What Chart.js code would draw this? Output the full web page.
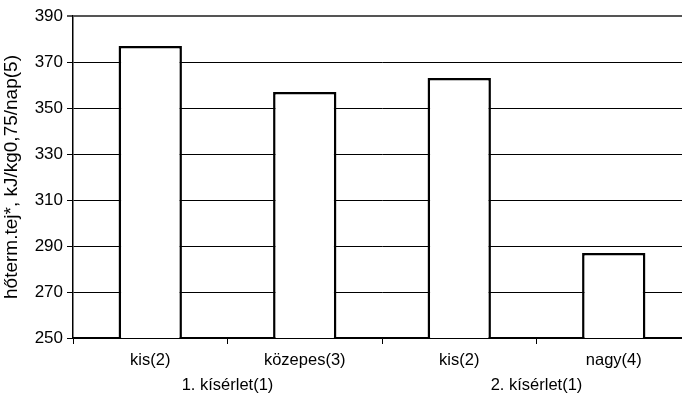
<!DOCTYPE html>
<html>
<head>
<meta charset="utf-8">
<script src="https://cdn.jsdelivr.net/npm/chart.js@4"></script>
<style>
  html, body { margin: 0; padding: 0; background: #fff; overflow: hidden; }
  #wrap { width: 700px; height: 403px; }
</style>
</head>
<body>
<div id="wrap"><canvas id="c" width="700" height="403"></canvas></div>
<script>
// Categories (body size class) and their experiment groups
const categories = ['kis(2)', 'közepes(3)', 'kis(2)', 'nagy(4)'];
const groups = ['1. kísérlet(1)', '1. kísérlet(1)', '2. kísérlet(1)', '2. kísérlet(1)'];
// Heat-corrected milk energy, kJ/kg^0.75/day
const values = [377, 357, 363, 287];
const yTicks = [250, 270, 290, 310, 330, 350, 370, 390];
const yTitle = 'hőterm.tej*, kJ/kg0,75/nap(5)';

const FONT = 'Liberation Sans, Arial, sans-serif';

// Second row of category labels: one centered label per experiment group
const groupLabels = {
  id: 'groupLabels',
  afterDraw(chart) {
    const x = chart.scales.x;
    const ctx = chart.ctx;
    ctx.save();
    ctx.font = '16.5px ' + FONT;
    ctx.fillStyle = '#000';
    ctx.textAlign = 'center';
    ctx.textBaseline = 'middle';
    let i = 0;
    while (i < groups.length) {
      let j = i;
      while (j + 1 < groups.length && groups[j + 1] === groups[i]) j++;
      const cx = (x.getPixelForValue(i) + x.getPixelForValue(j)) / 2;
      ctx.fillText(groups[i], cx, 385);
      i = j + 1;
    }
    ctx.restore();
  }
};

new Chart(document.getElementById('c'), {
  type: 'bar',
  data: {
    labels: categories,
    datasets: [{
      data: values,
      backgroundColor: '#ffffff',
      borderColor: '#000000',
      borderWidth: 2.5,
      borderSkipped: false,
      categoryPercentage: 1.0,
      barPercentage: 0.41
    }]
  },
  options: {
    responsive: false,
    animation: false,
    layout: { padding: { left: 0, right: 9, top: 16, bottom: 0 } },
    plugins: { legend: { display: false }, tooltip: { enabled: false } },
    scales: {
      x: {
        offset: true,
        grid: {
          offset: true,
          drawOnChartArea: false,
          drawTicks: true,
          tickLength: 6,
          color: '#000'
        },
        border: { color: '#000', width: 1.5 },
        ticks: {
          color: '#000',
          font: { family: FONT, size: 16.5 },
          padding: 7,
          maxRotation: 0,
          autoSkip: false
        },
        afterFit(scale) { scale.height = 65; }
      },
      y: {
        min: 250,
        max: 390,
        afterBuildTicks(scale) { scale.ticks = yTicks.map(v => ({ value: v })); },
        grid: {
          color: (ctx) => ctx.tick && ctx.tick.value === 390 ? '#555' : '#000',
          lineWidth: (ctx) => ctx.tick && ctx.tick.value === 390 ? 2 : 1,
          tickLength: 6,
          drawTicks: true
        },
        border: { color: '#000', width: 1.5 },
        ticks: {
          color: '#000',
          font: { family: FONT, size: 17 },
          padding: 4
        },
        title: {
          display: true,
          text: yTitle,
          color: '#000',
          font: { family: FONT, size: 19 },
          padding: { top: 0, bottom: 0 }
        },
        afterFit(scale) { scale.width = 73; }
      }
    }
  },
  plugins: [groupLabels]
});
</script>
</body>
</html>
